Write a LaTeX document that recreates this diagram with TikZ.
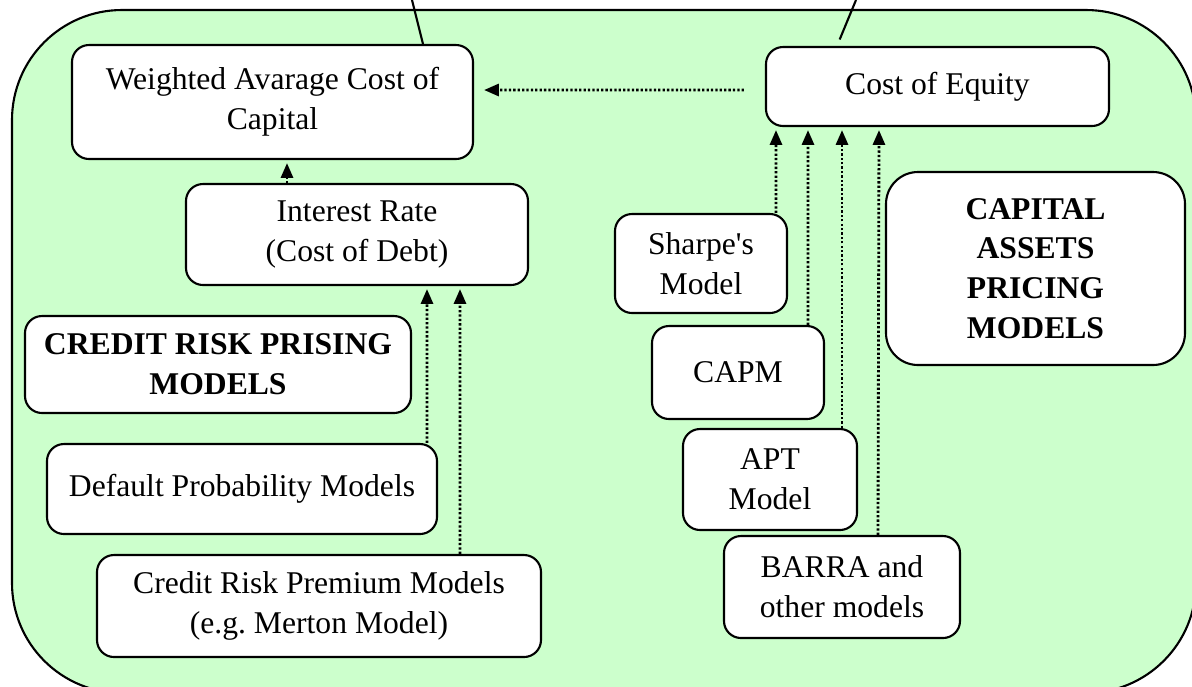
\documentclass[tikz,border=0pt]{standalone}
\usepackage{fontspec}
\setmainfont{Liberation Serif}
\usetikzlibrary{arrows.meta}

\definecolor{paleGreen}{RGB}{204,255,204}

\tikzstyle{modelNode} = [rectangle, rounded corners=0.17cm, draw=black, line width=0.6pt, fill=white, align=center, inner sep=0pt, font=\fontsize{9}{11.3}\selectfont]
\tikzstyle{titleNode} = [modelNode, rounded corners=0.32cm, font=\fontsize{9}{11.3}\selectfont\bfseries]
\tikzstyle{dotArrow} = [line width=0.8pt, dash pattern=on 0.65pt off 0.6pt, -{Triangle[length=4.2pt,width=3.4pt]}, shorten >=0.03cm]
\tikzstyle{calloutLine} = [line width=0.6pt]

\begin{document}
\begin{tikzpicture}
  \useasboundingbox (0,0) rectangle (11.92,-6.86);
  \clip (0,0) rectangle (11.92,-6.86);

  % background panel, runs off the right and bottom edges
  \draw[fill=paleGreen, line width=0.6pt, rounded corners=1.1cm] (0.12,-0.10) rectangle (11.96,-6.93);

  % cost of capital
  \node (wacc)[modelNode, minimum width=4.01cm, minimum height=1.14cm] at (2.725,-1.02) {Weighted Avarage Cost of\\Capital};
  \node (equity)[modelNode, minimum width=3.43cm, minimum height=0.79cm] at (9.375,-0.865) {Cost of Equity};
  \node (interest)[modelNode, minimum width=3.42cm, minimum height=1.01cm] at (3.57,-2.345) {Interest Rate\\(Cost of Debt)};

  % credit risk side
  \node (creditRisk)[titleNode, rounded corners=0.17cm, minimum width=3.86cm, minimum height=0.97cm] at (2.18,-3.645) {CREDIT RISK PRISING\\MODELS};
  \node (defaultProb)[modelNode, minimum width=3.90cm, minimum height=0.90cm] at (2.42,-4.89) {Default Probability Models};
  \node (premium)[modelNode, minimum width=4.44cm, minimum height=1.02cm] at (3.19,-6.06) {Credit Risk Premium Models\\(e.g.\ Merton Model)};

  % asset pricing side
  \node (sharpe)[modelNode, minimum width=1.72cm, minimum height=0.99cm] at (7.01,-2.635) {Sharpe\textquotesingle s\\Model};
  \node (capm)[modelNode, minimum width=1.72cm, minimum height=0.93cm] at (7.38,-3.725) {CAPM};
  \node (apt)[modelNode, minimum width=1.74cm, minimum height=1.01cm] at (7.70,-4.795) {APT\\Model};
  \node (barra)[modelNode, minimum width=2.36cm, minimum height=1.02cm] at (8.42,-5.87) {BARRA and\\other models};
  \node (capital)[titleNode, minimum width=2.99cm, minimum height=1.93cm] at (10.355,-2.685) {CAPITAL\\ASSETS\\PRICING\\MODELS};

  \draw [dotArrow, shorten <=0.21cm, shorten >=0.10cm] ([yshift=-0.035cm]equity.west) -- ([yshift=0.12cm]wacc.east);
  \draw [dotArrow] ([xshift=-0.70cm]interest.north) -- ([xshift=0.145cm]wacc.south);

  \draw [dotArrow] ([xshift=1.85cm]defaultProb.north) -- ([xshift=0.70cm]interest.south);
  \draw [dotArrow] ([xshift=1.41cm]premium.north) -- ([xshift=1.03cm]interest.south);

  \draw [dotArrow] ([xshift=0.75cm]sharpe.north) -- ([xshift=-1.615cm]equity.south);
  \draw [dotArrow] ([xshift=0.70cm]capm.north) -- ([xshift=-1.295cm]equity.south);
  \draw [dotArrow] ([xshift=0.72cm]apt.north) -- ([xshift=-0.955cm]equity.south);
  \draw [dotArrow] ([xshift=0.36cm]barra.north) -- ([xshift=-0.585cm]equity.south);

  % lines going up out of the panel
  \coordinate (topL) at (4.12,0);
  \coordinate (topR) at (8.56,0);
  \draw [calloutLine] (topL) -- ([xshift=1.505cm]wacc.north);
  \draw [calloutLine, shorten >=0.07cm] (topR) -- ([xshift=-1.005cm]equity.north);
\end{tikzpicture}
\end{document}
